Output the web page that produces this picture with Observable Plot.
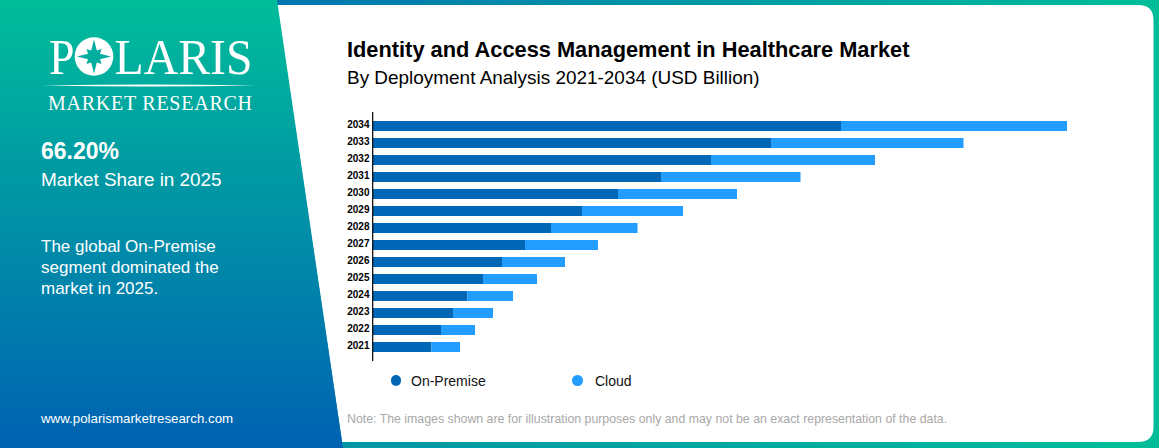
<!DOCTYPE html>
<html>
<head>
<meta charset="utf-8">
<script src="https://cdn.jsdelivr.net/npm/d3@7"></script>
<script src="https://cdn.jsdelivr.net/npm/@observablehq/plot@0.6"></script>
<style>
html,body{margin:0;padding:0;background:#fff}
#page{position:relative;width:1159px;height:448px;overflow:hidden;font-family:"Liberation Sans",Arial,sans-serif}
#bg{position:absolute;left:0;top:0}
#chart{position:absolute;left:0;top:0}
.t{position:absolute;white-space:nowrap;line-height:1}
.k{position:absolute;width:10.600px;height:10.600px;border-radius:50%}
</style>
</head>
<body>
<div id="page">
<svg id="bg" width="1159" height="448" viewBox="0 0 1159 448">
  <defs>
    <linearGradient id="side" x1="0" y1="0" x2="0" y2="1">
      <stop offset="0" stop-color="#00BD9A"/><stop offset="1" stop-color="#0062B3"/>
    </linearGradient>
    <linearGradient id="topS" x1="0" y1="0" x2="1" y2="0">
      <stop offset="0" stop-color="#0075B0"/><stop offset="1" stop-color="#00BD9A"/>
    </linearGradient>
    <linearGradient id="botS" x1="0" y1="0" x2="1" y2="0">
      <stop offset="0" stop-color="#0092A6"/><stop offset="1" stop-color="#00BD9A"/>
    </linearGradient>
  </defs>
  <rect x="270" y="0" width="889" height="224" fill="url(#topS)"/>
  <rect x="270" y="224" width="889" height="224" fill="url(#botS)"/>
  <rect x="1100" y="0" width="59" height="448" fill="#00BD9A"/>
  <path d="M277,5 H1138 Q1153.500,5 1153.500,20 V427 Q1153.500,442 1138,442 H342 Z" fill="#fff"/>
  <path d="M0,0 H277 L343,448 H0 Z" fill="url(#side)"/>
  <g fill="#fff" font-family="Liberation Serif, serif">
    <text x="49" y="74" font-size="51" textLength="25.500" lengthAdjust="spacingAndGlyphs">P</text>
    <circle cx="94" cy="56.500" r="19.300"/>
    <path d="M94,39.500 L96.800,50.500 L101.500,49 L100,53.700 L111,56.500 L100,59.300 L101.500,64 L96.800,62.500 L94,73.500 L91.200,62.500 L86.500,64 L88,59.300 L77,56.500 L88,53.700 L86.500,49 L91.200,50.500 Z" fill="#00AD9F"/>
    <text x="114.500" y="74" font-size="51" textLength="138" lengthAdjust="spacingAndGlyphs">LARIS</text>
    <path d="M41,85.500 Q148,83.500 256,85.500 Q148,87.500 41,85.500 Z"/>
    <text x="48" y="109.500" font-size="20" textLength="204" lengthAdjust="spacing">MARKET RESEARCH</text>
  </g>
</svg>
<div id="chart"></div>
<div class="t" style="left:41px;top:140px;font-size:23px;font-weight:700;color:#fff">66.20%</div>
<div class="t" style="left:41px;top:170.500px;font-size:18.900px;color:#fff">Market Share in 2025</div>
<div class="t" style="left:41px;top:237.500px;font-size:17px;color:#fff">The global On-Premise</div>
<div class="t" style="left:41px;top:258.500px;font-size:17px;color:#fff">segment dominated the</div>
<div class="t" style="left:41px;top:279.500px;font-size:17px;color:#fff">market in 2025.</div>
<div class="t" style="left:41px;top:412px;font-size:13.300px;color:#fff">www.polarismarketresearch.com</div>
<div class="t" style="left:347px;top:38.500px;font-size:21.800px;font-weight:700;color:#000">Identity and Access Management in Healthcare Market</div>
<div class="t" style="left:347px;top:68.500px;font-size:18.950px;color:#000">By Deployment Analysis 2021-2034 (USD Billion)</div>
<div class="k" style="left:390.700px;top:375.400px;background:#0066B6"></div>
<div class="t" style="left:411px;top:374px;font-size:14px;color:#111">On-Premise</div>
<div class="k" style="left:572.300px;top:375.400px;background:#239DFF"></div>
<div class="t" style="left:595px;top:374px;font-size:14px;color:#111">Cloud</div>
<div class="t" style="left:347px;top:413px;font-size:12.330px;color:#a8a8a8">Note: The images shown are for illustration purposes only and may not be an exact representation of the data.</div>
</div>
<script>
const years = [2034,2033,2032,2031,2030,2029,2028,2027,2026,2025,2024,2023,2022,2021];
const onPremise = [4.68,3.98,3.38,2.88,2.45,2.09,1.78,1.52,1.29,1.10,0.945,0.80,0.68,0.585];
const cloud = [2.26,1.925,1.64,1.395,1.19,1.01,0.865,0.73,0.63,0.54,0.455,0.40,0.34,0.285];
const seriesNames = ["On-Premise","Cloud"];
const seriesColors = ["#0066B6","#239DFF"];

const rows = years.flatMap((y,i)=>[
  {year:String(y),series:seriesNames[0],value:onPremise[i]},
  {year:String(y),series:seriesNames[1],value:cloud[i]}
]);

const plot = Plot.plot({
  width:1159,height:448,
  marginLeft:373,marginRight:1159-1067,marginTop:112,marginBottom:87,
  style:{background:"transparent",fontFamily:"Liberation Sans, Arial, sans-serif"},
  x:{domain:[0,6.94],axis:null},
  y:{domain:years.map(String),range:[116.900,357.100],paddingInner:0.4,paddingOuter:0.2,label:null},
  color:{domain:seriesNames,range:seriesColors},
  marks:[
    Plot.barX(rows,Plot.stackX({x:"value",y:"year",fill:"series",order:seriesNames})),
    Plot.axisY({tickSize:0,tickPadding:4,fontSize:10,fontWeight:700,fill:"#000",label:null,marginLeft:373,dy:-1.700}),
    Plot.ruleX([0],{stroke:"#000",strokeWidth:1.200,dx:-0.800})
  ]
});
document.getElementById("chart").appendChild(plot);
</script>
</body>
</html>
